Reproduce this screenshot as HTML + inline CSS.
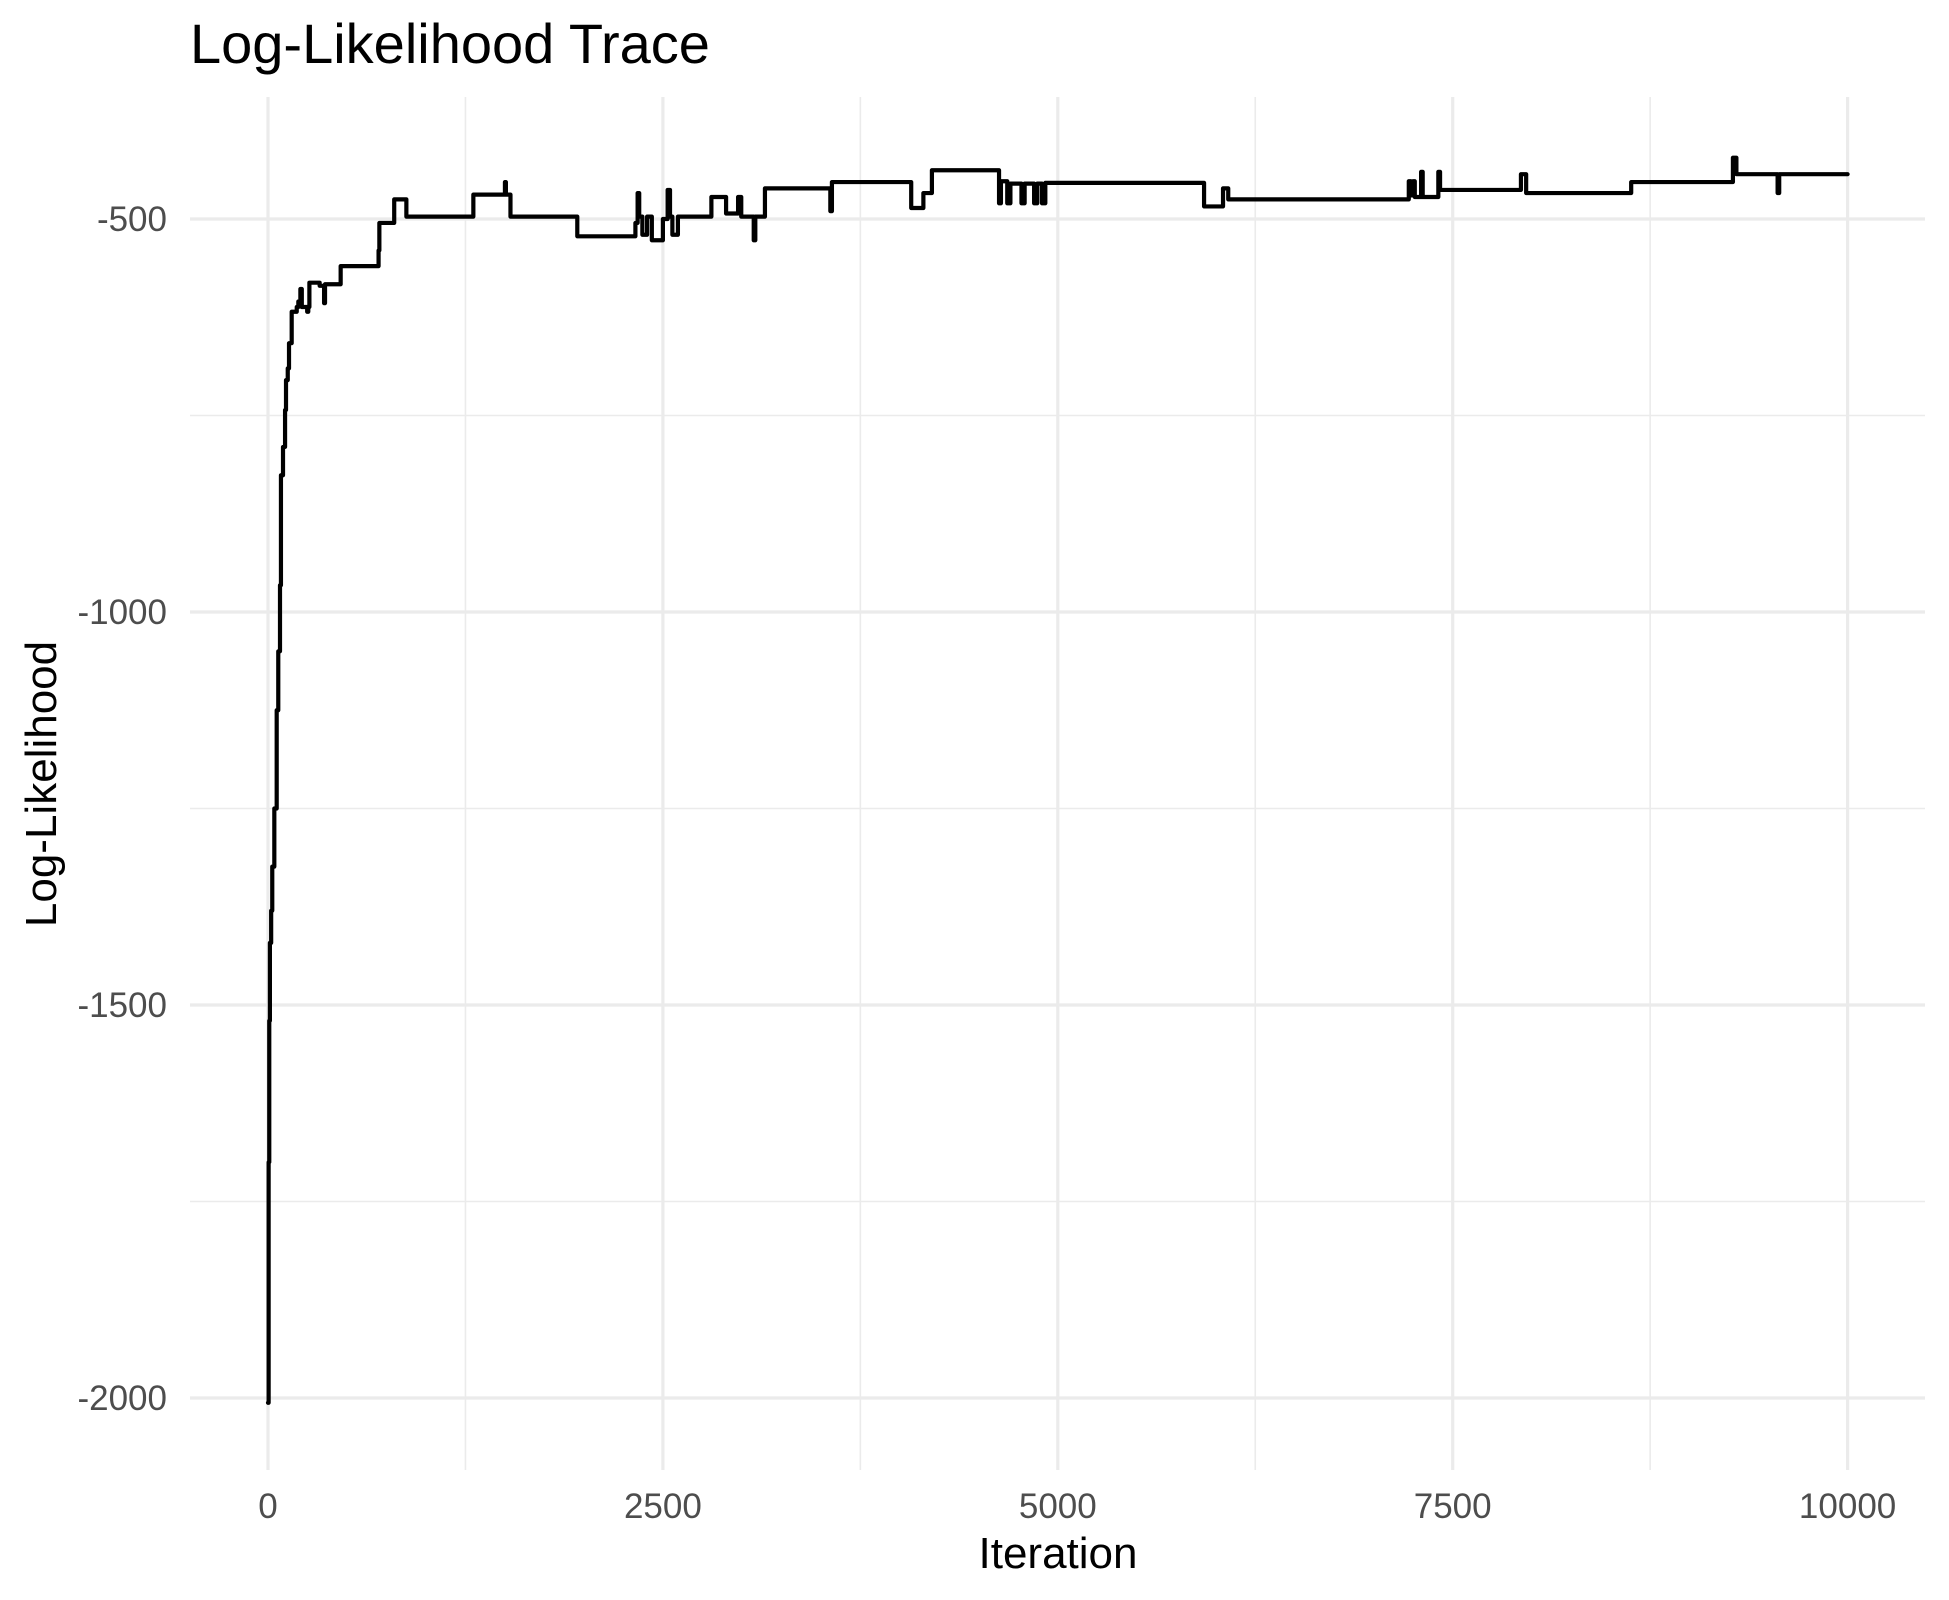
<!DOCTYPE html>
<html>
<head>
<meta charset="utf-8">
<style>
  html,body{margin:0;padding:0;background:#fff;}
  svg{display:block;}
  text{font-family:"Liberation Sans",Arial,sans-serif;}
</style>
</head>
<body>
<svg id="chart" width="1949" height="1600" viewBox="0 0 1949 1600">
  <rect x="0" y="0" width="1949" height="1600" fill="#ffffff"/>
  <g id="grid"></g>
  <g id="series"></g>
  <g id="axes"></g>
  <text x="190" y="63" font-size="56" fill="#000">Log-Likelihood Trace</text>
  <text x="1058" y="1568" font-size="44" fill="#000" text-anchor="middle">Iteration</text>
  <text x="0" y="0" font-size="44" fill="#000" text-anchor="middle" transform="translate(56,784) rotate(-90)">Log-Likelihood</text>
</svg>
<script>
const xTicks = [0, 2500, 5000, 7500, 10000];
const xTickLabels = ["0", "2500", "5000", "7500", "10000"];
const xMinor = [1250, 3750, 6250, 8750];
const yTicks = [-500, -1000, -1500, -2000];
const yTickLabels = ["-500", "-1000", "-1500", "-2000"];
const yMinor = [-750, -1250, -1750];
const iterations = [0,4,8,12,20,27,40,55,65,76,82,95,108,114,125,133,150,182,192,205,214,248,255,262,327,355,361,460,700,705,799,876,1300,1500,1506,1535,1958,2326,2340,2350,2370,2400,2430,2500,2530,2545,2560,2595,2807,2900,2976,2996,3075,3085,3146,3560,3570,4072,4149,4203,4628,4640,4680,4700,4760,4770,4790,4850,4870,4900,4921,5926,6046,6079,7222,7235,7249,7260,7300,7310,7409,7420,7932,7965,8630,9274,9296,9557,9567,10000];
const logLik = [-2006,-1700,-1520,-1421,-1380,-1324,-1250,-1125,-1050,-966,-826,-790,-743,-705,-690,-658,-618,-612,-605,-589,-612,-618,-612,-581,-585,-607,-583,-560,-540,-505,-475,-497,-469,-453,-469,-497,-522,-505,-467,-497,-520,-497,-527,-500,-463,-497,-520,-497,-472,-493,-472,-497,-527,-497,-461,-490,-453,-486,-467,-438,-480,-452,-480,-455,-455,-480,-455,-480,-455,-480,-454,-484,-461,-475,-452,-470,-452,-472,-440,-472,-440,-463,-443,-467,-453,-422,-443,-467,-443,-443];

const X0 = 268, X1 = 1847.6, Y500 = 219, Y2000 = 1398;
const PL = 190, PR = 1925, PT = 97, PB = 1470;
function xs(v){ return X0 + (v - 0) * (X1 - X0) / 10000; }
function ys(v){ return Y500 + (-500 - v) * (Y2000 - Y500) / 1500; }
const NS = "http://www.w3.org/2000/svg";
const grid = document.getElementById('grid');
const axes = document.getElementById('axes');
const series = document.getElementById('series');

xMinor.forEach(v => {
  const l = document.createElementNS(NS,'line');
  l.setAttribute('x1', xs(v)); l.setAttribute('x2', xs(v));
  l.setAttribute('y1', PT); l.setAttribute('y2', PB);
  l.setAttribute('stroke', '#ebebeb'); l.setAttribute('stroke-width', '1.6');
  
  
  grid.appendChild(l);
});
yMinor.forEach(v => {
  const l = document.createElementNS(NS,'line');
  l.setAttribute('x1', PL); l.setAttribute('x2', PR);
  l.setAttribute('y1', ys(v)); l.setAttribute('y2', ys(v));
  l.setAttribute('stroke', '#ebebeb'); l.setAttribute('stroke-width', '1.6');
  
  
  grid.appendChild(l);
});
xTicks.forEach((v, i) => {
  const l = document.createElementNS(NS,'line');
  l.setAttribute('x1', xs(v)); l.setAttribute('x2', xs(v));
  l.setAttribute('y1', PT); l.setAttribute('y2', PB);
  l.setAttribute('stroke', '#ebebeb'); l.setAttribute('stroke-width', '3.2');
  
  
  grid.appendChild(l);
  const t = document.createElementNS(NS,'text');
  t.setAttribute('x', xs(v)); t.setAttribute('y', 1518);
  t.setAttribute('text-anchor', 'middle'); t.setAttribute('font-size', '35');
  t.setAttribute('fill', '#4d4d4d');
  t.textContent = xTickLabels[i];
  
  
  axes.appendChild(t);
});
yTicks.forEach((v, i) => {
  const l = document.createElementNS(NS,'line');
  l.setAttribute('x1', PL); l.setAttribute('x2', PR);
  l.setAttribute('y1', ys(v)); l.setAttribute('y2', ys(v));
  l.setAttribute('stroke', '#ebebeb'); l.setAttribute('stroke-width', '3.2');
  
  
  grid.appendChild(l);
  const t = document.createElementNS(NS,'text');
  t.setAttribute('x', 167); t.setAttribute('y', ys(v) + 12);
  t.setAttribute('text-anchor', 'end'); t.setAttribute('font-size', '35');
  t.setAttribute('fill', '#4d4d4d');
  t.textContent = yTickLabels[i];
  
  
  axes.appendChild(t);
});

let d = 'M' + xs(iterations[0]).toFixed(2) + ' ' + ys(logLik[0]).toFixed(2);
for (let i = 1; i < iterations.length; i++) {
  d += ' H' + xs(iterations[i]).toFixed(2) + ' V' + ys(logLik[i]).toFixed(2);
}
const p = document.createElementNS(NS,'path');
p.setAttribute('d', d);
p.setAttribute('fill', 'none');
p.setAttribute('stroke', '#000');
p.setAttribute('stroke-width', '4.2');
p.setAttribute('stroke-linejoin', 'round');
p.setAttribute('stroke-linecap', 'round');


series.appendChild(p);
</script>
</body>
</html>
